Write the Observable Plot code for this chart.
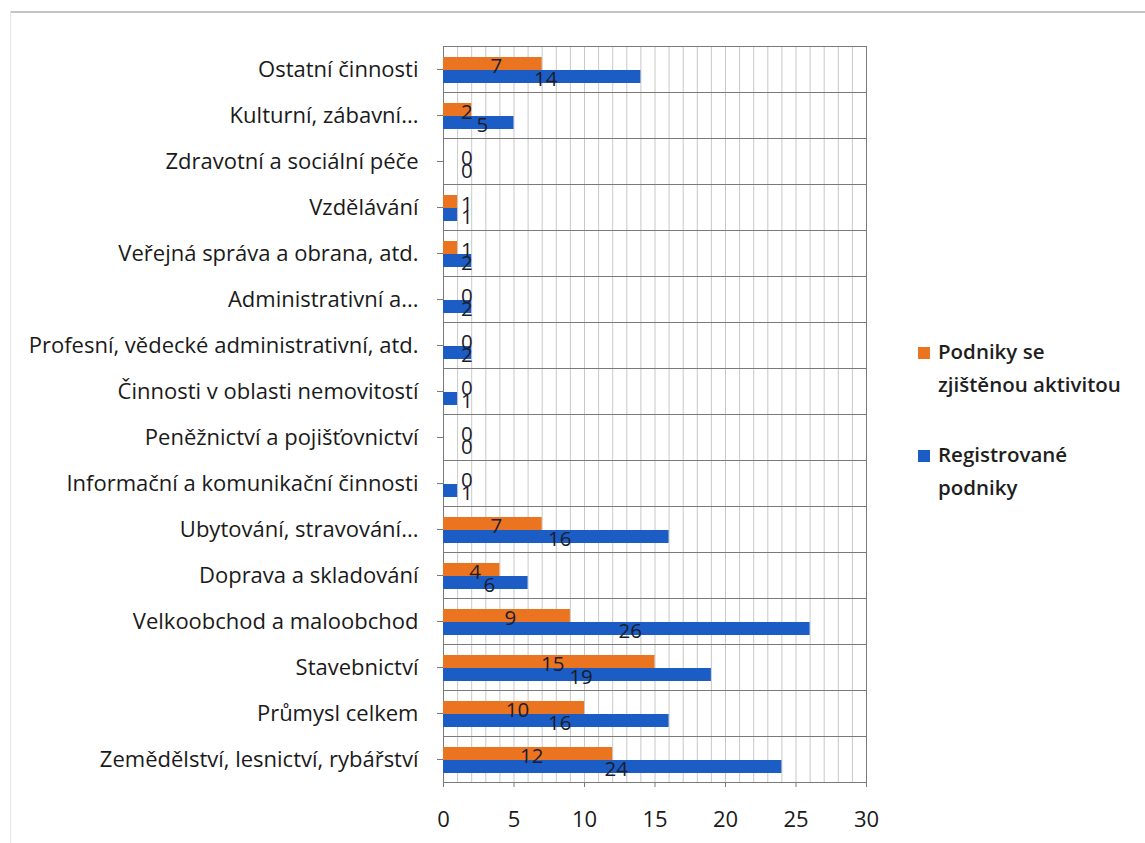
<!DOCTYPE html>
<html>
<head>
<meta charset="utf-8">
<script src="https://cdn.jsdelivr.net/npm/d3@7"></script>
<script src="https://cdn.jsdelivr.net/npm/@observablehq/plot@0.6"></script>
<style>
  body { margin: 0; background: #fff; font-family: "Open Sans", Lato, sans-serif; }
  #wrap { position: relative; width: 1145px; height: 843px; overflow: hidden; }
  #topline { position: absolute; left: 10px; top: 11px; width: 1135px; height: 0; border-top: 2px solid #c4c4c4; }
  #leftline { position: absolute; left: 10px; top: 11px; width: 0; height: 832px; border-left: 1px solid #e6e6e6; }
  #chart { position: absolute; left: 0; top: 0; }
  #legend { position: absolute; left: 918px; top: 335px; font-size: 20.5px; font-weight: 600; color: #1e1e1e; line-height: 33px; }
  .item { display: flex; align-items: flex-start; margin-bottom: 37px; }
  .sw { width: 12px; height: 12px; margin-top: 12px; margin-right: 8px; flex: none; }
</style>
</head>
<body>
<div id="wrap">
  <div id="topline"></div>
  <div id="leftline"></div>
  <div id="chart"></div>
  <div id="legend"></div>
</div>
<script>
// ---- data ----
const categories = [
  "Ostatní činnosti",
  "Kulturní, zábavní...",
  "Zdravotní a sociální péče",
  "Vzdělávání",
  "Veřejná správa a obrana, atd.",
  "Administrativní a...",
  "Profesní, vědecké administrativní, atd.",
  "Činnosti v oblasti nemovitostí",
  "Peněžnictví a pojišťovnictví",
  "Informační a komunikační činnosti",
  "Ubytování, stravování...",
  "Doprava a skladování",
  "Velkoobchod a maloobchod",
  "Stavebnictví",
  "Průmysl celkem",
  "Zemědělství, lesnictví, rybářství"
];
const activeValues     = [7, 2, 0, 1, 1, 0, 0, 0, 0, 0, 7, 4, 9, 15, 10, 12];
const registeredValues = [14, 5, 0, 1, 2, 2, 2, 1, 0, 1, 16, 6, 26, 19, 16, 24];
const seriesNames = ["Podniky se zjištěnou aktivitou", "Registrované podniky"];
const seriesLegend = ["Podniky se<br>zjištěnou aktivitou", "Registrované<br>podniky"];
const seriesColors = ["#EA7420", "#1B5DC4"];
const xTicks = [0, 5, 10, 15, 20, 25, 30];
const gridTicks = d3.range(0, 31);

const rows = [];
categories.forEach((c, i) => {
  rows.push({cat: c, series: seriesNames[0], value: activeValues[i]});
  rows.push({cat: c, series: seriesNames[1], value: registeredValues[i]});
});

const chart = Plot.plot({
  width: 1145,
  height: 843,
  marginLeft: 443,
  marginRight: 279,
  marginTop: 40,
  marginBottom: 55,
  style: {fontFamily: '"Open Sans", Lato, sans-serif', background: "transparent", color: "#1a1a1a"},
  x: {domain: [0, 30]},
  y: {domain: seriesNames, paddingInner: 0, paddingOuter: 0.74, align: 0.55, axis: null},
  fy: {domain: categories, padding: 0},
  color: {domain: seriesNames, range: seriesColors},
  marks: [
    Plot.gridX({ticks: gridTicks, stroke: "#9a9a9a", strokeOpacity: 0.55, strokeWidth: 1}),
    Plot.frame({stroke: "#7a7a7a", strokeWidth: 1}),
    Plot.barX(rows, {x: "value", y: "series", fy: "cat", fill: "series"}),
    Plot.text(rows, {
      x: d => Math.max(d.value / 2 + 0.25, 1.65),
      y: "series", fy: "cat", text: d => String(d.value),
      dy: 2, fontSize: 20.5, fill: "#1c1c2a"
    }),
    Plot.axisX({ticks: xTicks, tickSize: 5, tickPadding: 24, fontSize: 22, label: null, stroke: "#7a7a7a"}),
    Plot.axisFy({anchor: "left", tickSize: 6, tickPadding: 19, fontSize: 22, label: null, stroke: "#7a7a7a"})
  ]
});
document.getElementById("chart").appendChild(chart);

const legend = document.getElementById("legend");
seriesNames.forEach((s, i) => {
  const it = document.createElement("div");
  it.className = "item";
  it.innerHTML = `<span class="sw" style="background:${seriesColors[i]}"></span><span>${seriesLegend[i]}</span>`;
  legend.appendChild(it);
});
</script>
</body>
</html>
